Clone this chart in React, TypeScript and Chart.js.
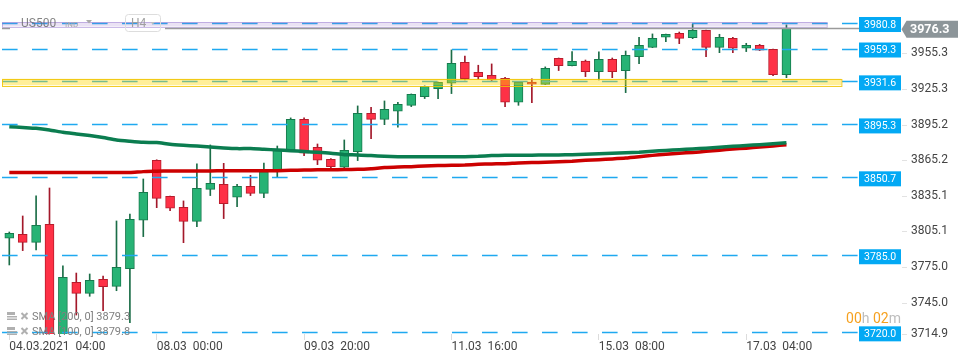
import { useEffect, useRef } from 'react';
import { Chart, registerables } from 'chart.js';

Chart.register(...registerables);

// ---- data ----
const opens = [
  3799.3, 3802.6, 3795.9, 3811.1, 3712.0, 3762.2, 3752.9, 3764.7, 3758.8, 3773.7,
  3814.5, 3865.1, 3834.7, 3825.4, 3813.6, 3840.6, 3844.8, 3833.9, 3843.1, 3837.2,
  3856.9, 3873.8, 3899.6, 3876.0, 3865.9, 3859.2, 3872.4, 3904.7, 3899.6, 3906.4,
  3911.4, 3918.7, 3925.5, 3930.0, 3947.7, 3939.3, 3936.7, 3934.2, 3914.0, 3931.1,
  3929.1, 3951.1, 3944.9, 3948.8, 3939.8, 3950.2, 3940.6, 3952.4, 3960.3, 3968.8,
  3972.1, 3968.5, 3974.7, 3960.3, 3967.9, 3959.5, 3962.0, 3958.6, 3937.3,
];
const highs = [
  3804.6, 3818.1, 3835.0, 3841.7, 3776.0, 3770.0, 3769.2, 3767.5, 3813.9, 3819.8,
  3849.3, 3865.5, 3834.9, 3830.8, 3862.0, 3878.0, 3862.5, 3844.8, 3852.4, 3862.8,
  3877.1, 3900.8, 3900.8, 3878.8, 3866.4, 3882.2, 3910.9, 3909.8, 3915.1, 3914.0,
  3921.0, 3927.8, 3931.0, 3958.1, 3953.0, 3945.2, 3946.3, 3935.1, 3931.4, 3933.7,
  3943.8, 3951.3, 3956.7, 3949.6, 3956.4, 3951.3, 3957.2, 3968.8, 3971.6, 3971.5,
  3973.2, 3980.0, 3974.9, 3971.3, 3968.8, 3963.7, 3962.8, 3958.8, 3979.2,
];
const lows = [
  3776.8, 3788.9, 3789.4, 3706.0, 3708.0, 3734.6, 3750.4, 3738.3, 3755.1, 3728.1,
  3800.7, 3825.1, 3822.6, 3795.6, 3809.1, 3835.3, 3815.9, 3826.0, 3835.3, 3833.6,
  3850.4, 3873.5, 3869.0, 3861.4, 3857.0, 3857.5, 3864.8, 3883.3, 3895.1, 3892.9,
  3910.3, 3917.1, 3917.1, 3921.3, 3932.8, 3933.4, 3932.2, 3910.3, 3911.4, 3913.7,
  3928.9, 3940.7, 3944.6, 3935.6, 3932.8, 3934.7, 3922.1, 3946.5, 3960.0, 3965.1,
  3963.4, 3967.6, 3952.4, 3955.8, 3955.8, 3956.7, 3957.5, 3936.4, 3934.7,
];
const closes = [
  3803.5, 3795.9, 3810.2, 3712.0, 3766.4, 3752.9, 3763.9, 3758.5, 3774.8, 3815.3,
  3838.1, 3833.0, 3824.6, 3813.6, 3841.4, 3845.7, 3828.5, 3843.1, 3837.2, 3855.5,
  3873.8, 3899.6, 3871.0, 3865.1, 3859.7, 3873.5, 3904.7, 3899.6, 3908.1, 3912.3,
  3920.7, 3927.5, 3930.8, 3946.9, 3933.9, 3935.6, 3932.8, 3914.0, 3930.8, 3929.2,
  3942.6, 3944.9, 3948.5, 3939.8, 3950.2, 3939.8, 3953.6, 3962.0, 3967.9, 3971.3,
  3967.9, 3974.7, 3960.3, 3968.8, 3959.5, 3962.0, 3957.8, 3937.3, 3976.3,
];
const sma100 = [
  3893.4, 3892.7, 3892.0, 3890.6, 3888.7, 3887.3, 3885.9, 3884.2, 3882.2, 3881.1,
  3880.2, 3880.0, 3878.5, 3877.7, 3877.1, 3876.3, 3875.5, 3874.9, 3874.9, 3874.3,
  3873.8, 3873.2, 3872.4, 3871.8, 3871.0, 3869.8, 3869.6, 3869.0, 3868.4, 3868.1,
  3868.1, 3868.1, 3868.1, 3868.1, 3868.1, 3868.4, 3869.0, 3869.3, 3869.3, 3869.3,
  3869.6, 3869.6, 3869.8, 3870.2, 3870.6, 3871.0, 3871.4, 3871.9, 3872.7, 3873.3,
  3874.0, 3874.6, 3875.3, 3876.0, 3876.8, 3877.5, 3878.2, 3879.0, 3879.8,
];
const sma200 = [
  3854.7, 3854.7, 3854.7, 3854.7, 3854.7, 3854.7, 3854.7, 3854.7, 3854.7, 3854.7,
  3855.5, 3855.8, 3856.1, 3856.1, 3856.1, 3856.1, 3856.3, 3856.3, 3856.3, 3856.3,
  3856.3, 3856.6, 3856.9, 3857.0, 3857.0, 3857.2, 3857.4, 3858.0, 3858.9, 3859.4,
  3859.7, 3860.3, 3860.6, 3860.8, 3861.1, 3861.7, 3862.0, 3862.2, 3862.8, 3863.1,
  3863.4, 3863.9, 3864.3, 3865.0, 3865.6, 3866.2, 3866.9, 3868.0, 3869.2, 3870.1,
  3871.0, 3871.7, 3872.6, 3873.6, 3874.5, 3875.3, 3876.2, 3877.2, 3878.2,
];
const xTickIdx = [0, 11, 22, 33, 44, 55];
const xTickLabels = ['04.03.2021  04:00', '08.03  00:00', '09.03  20:00', '11.03  16:00', '15.03  08:00', '17.03  04:00'];
const yTickLabels = ['3955.3', '3925.3', '3895.2', '3865.2', '3835.1', '3805.1', '3775.0', '3745.0', '3714.9'];
const levels = [3980.8, 3959.3, 3931.6, 3895.3, 3850.7, 3785.0, 3720.0];
const currentPrice = 3976.3;
const purpleZone = [3977.8, 3981.6];
const yellowZone = [3928.3, 3933.8];
const legendRows = ['SMA [200, 0] 3879.3', 'SMA [100, 0] 3879.8'];
const symbol = 'US500';
const symbolType = 'IND';
const interval = 'H4';
const timerParts = [
  { t: '00', c: '#f6a11f' },
  { t: 'h ', c: '#bdbdbd' },
  { t: '02', c: '#f6a11f' },
  { t: 'm', c: '#bdbdbd' },
];

const GREEN = '#27b375';
const GREEN_B = '#177a4d';
const RED = '#fe3146';
const RED_B = '#b71c2c';

const FONT = 'Roboto, "Noto Sans", sans-serif';

const overlay = {
  id: 'overlay',
  afterDatasetsDraw(chart: any) {
    const { ctx, chartArea: ca, scales } = chart;
    const x = scales.x;
    const y = scales.y;
    ctx.save();
    ctx.beginPath();
    ctx.rect(ca.left, ca.top, ca.right - ca.left, ca.bottom - ca.top);
    ctx.clip();
    // dashed levels
    ctx.setLineDash([15.6, 14.4]);
    ctx.strokeStyle = '#1fa9f0';
    ctx.lineWidth = 1.4;
    for (const lv of levels) {
      const py = Math.round(y.getPixelForValue(lv)) + 0.5;
      ctx.beginPath();
      ctx.moveTo(ca.left, py);
      ctx.lineTo(ca.right, py);
      ctx.stroke();
    }
    ctx.setLineDash([]);
    // zones
    const drawZone = (z: number[], endIdx: number, fill: string, stroke: string) => {
      const y1 = y.getPixelForValue(z[1]);
      const y0 = y.getPixelForValue(z[0]);
      const xr = x.getPixelForValue(endIdx);
      ctx.fillStyle = fill;
      ctx.fillRect(ca.left, y1, xr - ca.left, y0 - y1);
      ctx.strokeStyle = stroke;
      ctx.lineWidth = 1;
      ctx.strokeRect(ca.left + 0.5, Math.round(y1) + 0.5, xr - ca.left, Math.round(y0 - y1));
    };
    drawZone(purpleZone, 61.0, 'rgba(150,110,200,0.2)', 'rgba(150,120,210,0.5)');
    drawZone(yellowZone, 62.1, 'rgba(255,215,0,0.4)', 'rgba(240,195,0,0.85)');
    ctx.restore();

    // current price line (with gap behind the symbol title)
    ctx.save();
    const pp = Math.round(y.getPixelForValue(currentPrice)) + 0.5;
    ctx.strokeStyle = '#9a9a9a';
    ctx.lineWidth = 1.3;
    ctx.beginPath();
    ctx.moveTo(ca.left, pp);
    ctx.lineTo(10, pp);
    ctx.moveTo(165, pp);
    ctx.lineTo(ca.right + 1, pp);
    ctx.stroke();
    ctx.restore();
  },
  afterDraw(chart: any) {
    const { ctx, scales } = chart;
    const y = scales.y;
    ctx.save();
    // small tick marks by y labels
    ctx.strokeStyle = '#e2e2e2';
    ctx.lineWidth = 1;
    for (const t of y.ticks) {
      const py = Math.round(y.getPixelForValue(t.value)) + 0.5;
      ctx.beginPath();
      ctx.moveTo(902, py);
      ctx.lineTo(907, py);
      ctx.stroke();
    }
    // level boxes
    ctx.font = `10.5px ${FONT}`;
    ctx.textBaseline = 'middle';
    ctx.textAlign = 'left';
    for (const lv of levels) {
      const py = y.getPixelForValue(lv) + 1.5;
      ctx.fillStyle = '#03a9f4';
      ctx.fillRect(859, py - 7.5, 42, 15);
      ctx.fillStyle = '#ffffff';
      ctx.fillText(lv.toFixed(1), 864, py + 0.5);
    }
    // current price label
    const cp = y.getPixelForValue(currentPrice) + 0.8;
    ctx.fillStyle = '#8c9599';
    ctx.beginPath();
    ctx.moveTo(901.5, cp);
    ctx.lineTo(906.5, cp - 8.5);
    ctx.lineTo(958, cp - 8.5);
    ctx.lineTo(958, cp + 8.5);
    ctx.lineTo(906.5, cp + 8.5);
    ctx.closePath();
    ctx.fill();
    ctx.fillStyle = '#ffffff';
    ctx.font = `bold 12.5px ${FONT}`;
    ctx.fillText(currentPrice.toFixed(1), 910, cp + 0.5);

    // title
    ctx.font = `12px ${FONT}`;
    ctx.fillStyle = 'rgba(110,110,110,0.85)';
    ctx.fillText(symbol, 21, 24);
    ctx.font = `8px ${FONT}`;
    ctx.fillStyle = '#aaaaaa';
    ctx.fillText(symbolType, 65, 24.5);
    ctx.beginPath();
    ctx.moveTo(86, 20);
    ctx.lineTo(92, 20);
    ctx.lineTo(89, 23.5);
    ctx.closePath();
    ctx.fill();
    ctx.strokeStyle = '#dddddd';
    ctx.lineWidth = 1;
    ctx.beginPath();
    (ctx as any).roundRect(125.5, 14.5, 35, 17, 3);
    ctx.stroke();
    ctx.font = `12px ${FONT}`;
    ctx.fillStyle = '#a0a0a0';
    ctx.fillText(interval, 131, 23.5);
    ctx.fillStyle = '#c0c0c0';
    ctx.beginPath();
    ctx.moveTo(150.5, 22);
    ctx.lineTo(155, 22);
    ctx.lineTo(152.75, 24.5);
    ctx.closePath();
    ctx.fill();

    // legend rows
    legendRows.forEach((row, i) => {
      const cy = 316.5 + i * 15;
      ctx.fillStyle = '#b0b0b0';
      ctx.fillRect(7, cy - 4.5, 8, 3);
      ctx.fillRect(7, cy - 0.5, 10, 1.5);
      ctx.fillRect(7, cy + 2, 10, 1.5);
      ctx.strokeStyle = '#b0b0b0';
      ctx.lineWidth = 2;
      ctx.beginPath();
      ctx.moveTo(21.5, cy - 3.5);
      ctx.lineTo(27.5, cy + 2.5);
      ctx.moveTo(27.5, cy - 3.5);
      ctx.lineTo(21.5, cy + 2.5);
      ctx.stroke();
      ctx.font = `11px ${FONT}`;
      ctx.fillStyle = '#7f7f7f';
      ctx.fillText(row, 32, cy + 0.5);
    });

    // countdown
    ctx.font = `14px ${FONT}`;
    ctx.textBaseline = 'alphabetic';
    let total = 0;
    for (const p of timerParts) total += ctx.measureText(p.t).width;
    let tx = 901 - total;
    for (const p of timerParts) {
      ctx.fillStyle = p.c;
      ctx.fillText(p.t, tx, 323);
      tx += ctx.measureText(p.t).width;
    }
    ctx.restore();
  },
};

export default function App() {
  const ref = useRef<HTMLCanvasElement | null>(null);
  useEffect(() => {
    if (!ref.current) return;
    Chart.defaults.font.family = FONT;
    const idx = opens.map((_, i) => i);
    const up = idx.map((i) => closes[i] >= opens[i]);
    const chart = new Chart(ref.current, {
      type: 'bar',
      data: {
        datasets: [
          {
            type: 'line',
            data: idx.map((i) => ({ x: i, y: sma100[i] })),
            borderColor: '#0b7d50',
            borderWidth: 3.5,
            pointRadius: 0,
            tension: 0.2,
            order: 0,
          } as any,
          {
            type: 'line',
            data: idx.map((i) => ({ x: i, y: sma200[i] })),
            borderColor: '#cc0000',
            borderWidth: 3.5,
            pointRadius: 0,
            tension: 0.2,
            order: 0,
          } as any,
          {
            type: 'bar',
            data: idx.map((i) => ({ x: i, y: [opens[i], closes[i]] })),
            backgroundColor: up.map((u) => (u ? GREEN : RED)),
            borderColor: up.map((u) => (u ? GREEN_B : RED_B)),
            borderWidth: 1,
            borderSkipped: false,
            barThickness: 9,
            minBarLength: 2,
            grouped: false,
            order: 1,
          } as any,
          {
            type: 'bar',
            data: idx.map((i) => ({ x: i, y: [lows[i], highs[i]] })),
            backgroundColor: up.map((u) => (u ? '#1b6d47' : '#a3182a')),
            borderWidth: 0,
            barThickness: 1,
            grouped: false,
            order: 2,
          } as any,
        ],
      },
      options: {
        animation: false,
        responsive: false,
        events: [],
        layout: { padding: { left: 2, right: 0, top: 0, bottom: 0 } },
        plugins: { legend: { display: false }, tooltip: { enabled: false }, title: { display: false } },
        scales: {
          x: {
            type: 'linear',
            min: -0.545,
            max: 63.34,
            offset: false,
            grid: { offset: false, drawOnChartArea: false, drawTicks: true, tickLength: 6, color: '#dcdcdc' },
            border: { display: false },
            afterBuildTicks: (s: any) => {
              s.ticks = xTickIdx.map((v) => ({ value: v }));
            },
            afterFit: (s: any) => {
              s.height = 30;
              s.paddingLeft = 0;
              s.paddingRight = 0;
            },
            ticks: {
              padding: 0,
              color: '#444444',
              font: { size: 12 },
              align: 'start',
              maxRotation: 0,
              autoSkip: false,
              callback: (v: any) => {
                const k = xTickIdx.indexOf(Number(v));
                return k >= 0 ? xTickLabels[k] : '';
              },
            },
          },
          y: {
            type: 'linear',
            position: 'right',
            min: 3718.6,
            max: 4000.2,
            grid: { display: false, drawTicks: false },
            border: { display: false },
            afterBuildTicks: (s: any) => {
              s.ticks = yTickLabels.map((l) => ({ value: Math.max(parseFloat(l), s.min) }));
            },
            afterFit: (s: any) => {
              s.width = 112;
              s.paddingTop = 0;
              s.paddingBottom = 0;
            },
            ticks: {
              padding: 53,
              color: '#444444',
              font: { size: 12 },
              callback: (_v: any, i: number) => yTickLabels[i],
            },
          },
        },
      } as any,
      plugins: [overlay],
    });
    return () => chart.destroy();
  }, []);
  return (
    <div style={{ position: 'absolute', left: 0, top: 0, width: 970, height: 364, background: '#fff' }}>
      <canvas ref={ref} width={970} height={364} style={{ display: 'block' }} />
    </div>
  );
}
